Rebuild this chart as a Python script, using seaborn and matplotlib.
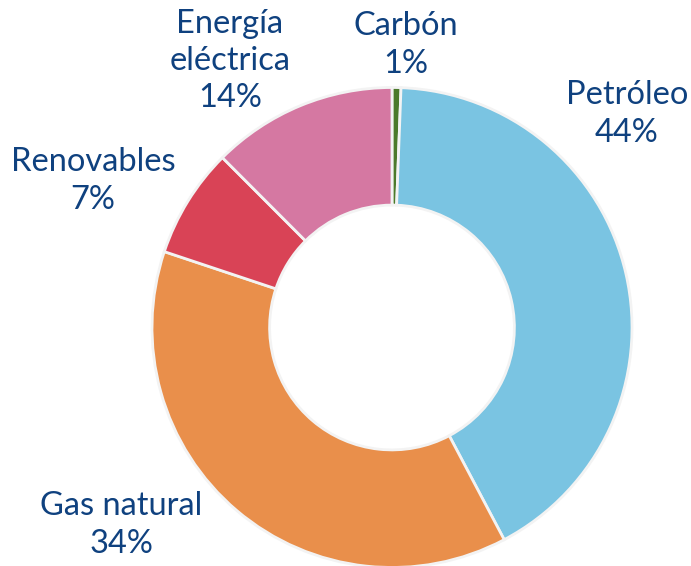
import matplotlib
matplotlib.use("Agg")
import matplotlib.pyplot as plt
import seaborn as sns

# slice sizes as measured from the ring, text as printed on the chart
sources = ["Carbón", "Petróleo", "Gas natural", "Renovables", "Energía\neléctrica"]
shares = [0.6, 41.7, 37.9, 7.4, 12.5]
pct_labels = ["1%", "44%", "34%", "7%", "14%"]
colors = ["#4b7a2b", "#7ac4e2", "#e98f4b", "#d94356", "#d578a2"]

# label anchor points in pixels (x, y from top)
label_px = [(406, 45), (627, 114), (121, 525), (93, 181), (230, 61)]

sns.set_theme(style="white")
plt.rcParams['font.family'] = ['Lato', 'DejaVu Sans']

W, H = 691, 566
fig = plt.figure(figsize=(W / 100, H / 100), dpi=100)

cx, cy, r = 392, 327.5, 240
lim = 1.02
half = r * lim
ax = fig.add_axes([(cx - half) / W, (H - cy - half) / H, 2 * half / W, 2 * half / H])

ax.pie(shares, colors=colors, startangle=90, counterclock=False,
       wedgeprops=dict(width=0.49, edgecolor="#f3f3f3", linewidth=2))
ax.set_xlim(-lim, lim)
ax.set_ylim(-lim, lim)
ax.set_aspect("equal")
ax.axis("off")

for name, pct, (x, y) in zip(sources, pct_labels, label_px):
    fig.text(x / W, 1 - y / H, name + "\n" + pct, ha="center", va="center",
             fontsize=23.5, color="#0f417f", linespacing=1.3)

fig.savefig("out.png", dpi=100)
